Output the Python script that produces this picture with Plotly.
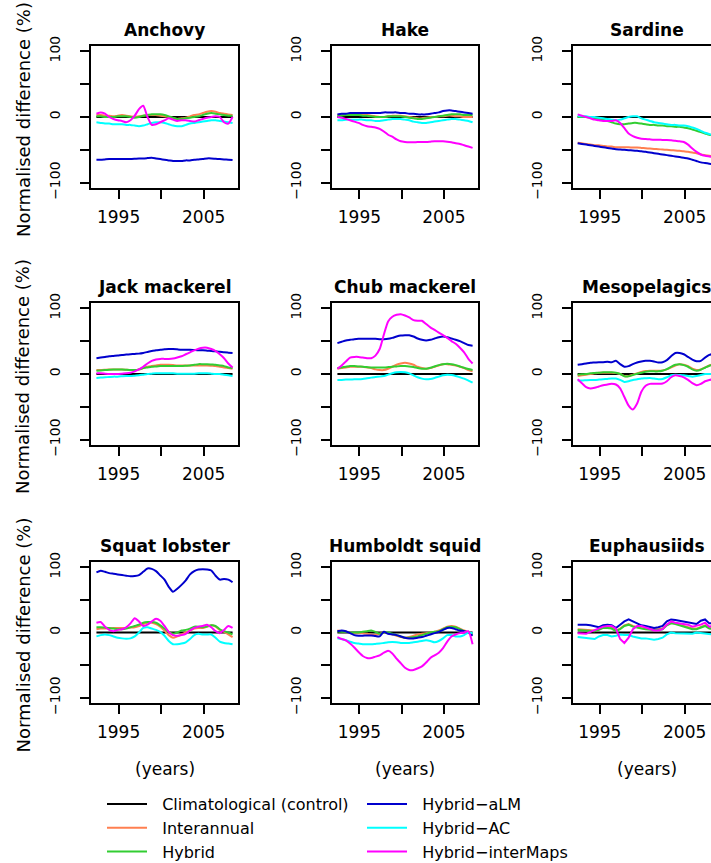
import plotly.graph_objects as go

# ---------------- data ----------------
YEARS = [1992.4, 1992.9, 1993.4, 1993.9, 1994.4, 1994.9, 1995.4, 1995.9, 1996.4, 1996.9,
         1997.4, 1997.9, 1998.4, 1998.9, 1999.4, 1999.9, 2000.4, 2000.9, 2001.4, 2001.9,
         2002.4, 2002.9, 2003.4, 2003.9, 2004.4, 2004.9, 2005.4, 2005.9, 2006.4, 2006.9,
         2007.4, 2007.9, 2008.4]

SPECIES = ["Anchovy", "Hake", "Sardine", "Jack mackerel", "Chub mackerel", "Mesopelagics",
           "Squat lobster", "Humboldt squid", "Euphausiids"]

SERIES_NAMES = ["Climatological (control)", "Interannual", "Hybrid",
                "Hybrid\u2212aLM", "Hybrid\u2212AC", "Hybrid\u2212interMaps"]
SERIES_COLORS = ["#000000", "#FF7F50", "#32CD32", "#0000CD", "#00FFFF", "#FF00FF"]

CONTROL = [0, 0, 0, 0, 0, 0, 0, 0, 0, 0, 0, 0, 0, 0, 0, 0, 0, 0, 0, 0, 0, 0, 0, 0, 0, 0, 0, 0, 0, 0, 0, 0, 0]

ANCHOVY_INTERANNUAL = [3, 3, 2, 2, 1, 2, 3, 2, 1, 0, 1, 2, 3, 3, 3, 2, 1, 0, -2, -3, -2, -1, 1, 3, 4, 6, 8, 9, 8, 6, 5, 4, 3]
ANCHOVY_HYBRID = [1, 1, 0, 0, 0, 1, 1, 1, 0, -1, 0, 2, 3, 4, 4, 4, 3, 1, -1, -3, -3, -2, -1, 0, 1, 3, 5, 6, 5, 4, 3, 2, 2]
ANCHOVY_ALM = [-65, -65, -64.5, -64, -64, -64, -64, -64, -64, -63.5, -63, -63, -62.5, -62, -63, -64, -65, -66, -67, -67, -67, -66, -66, -65, -64.5, -64, -63, -63, -63.5, -64, -64.5, -65, -65.5]
ANCHOVY_AC = [-8, -9, -10, -10, -11, -11, -11, -12, -12, -13, -14, -13, -11, -9, -8, -8, -9, -11, -13, -14, -14, -12, -10, -9, -8, -7, -6, -5, -5, -6, -7, -8, -9]
ANCHOVY_INTERMAPS = [5, 7, 5, 0, -3, -5, -6, -8, -5, 2, 12, 17, 0, -12, -11, -8, -5, -2, -4, -6, -5, -5, -6, -7, -5, -3, -1, 0, 1, 0, -8, -10, 0]

HAKE_INTERANNUAL = [3, 3, 4, 4, 4, 4, 4, 3, 2, 1, 0, 0, 1, 2, 2, 2, 1, 0, -1, -2, -2, -1, 0, 0, 1, 1, 2, 2, 1, 1, 0, 0, 0]
HAKE_HYBRID = [2, 2, 3, 3, 3, 3, 2, 2, 1, 0, 0, 0, 1, 1, 1, 1, 0, -1, -2, -3, -3, -2, -1, 0, 1, 2, 3, 4, 4, 4, 3, 3, 3]
HAKE_ALM = [4, 5, 5, 6, 6, 6, 6, 6, 6, 6, 6, 7, 7, 7, 7, 6, 6, 5, 5, 4, 4, 4, 5, 6, 7, 9, 10, 10, 9, 8, 7, 6, 5]
HAKE_AC = [-5, -5, -4, -4, -4, -4, -4, -5, -5, -6, -6, -5, -4, -3, -3, -3, -4, -5, -7, -8, -9, -9, -8, -7, -6, -5, -4, -3, -3, -4, -5, -6, -8]
HAKE_INTERMAPS = [0, -1, -3, -5, -7, -9, -12, -14, -15, -16, -18, -22, -27, -30, -34, -37, -38, -38.5, -38.5, -38, -38, -38, -37.5, -37, -37, -37, -37.5, -38.5, -40, -41, -43, -45, -47]

SARDINE_INTERANNUAL = [-39, -40, -41, -42, -43, -43, -44, -45, -45, -46, -46, -46, -46, -46.5, -46.5, -47, -47.5, -48, -48.5, -49, -49.5, -50, -50.5, -51, -51.5, -52, -53, -54, -55, -57, -58, -59, -60]
SARDINE_HYBRID = [0, 0, 0, -1, -2, -3, -4, -6, -8, -10, -11, -11, -10, -9, -9, -10, -11, -12, -12, -13, -13, -14, -14, -15, -15, -16, -17, -19, -21, -23, -25, -27, -28]
SARDINE_ALM = [-40, -41, -42, -43, -44, -45, -46, -47, -48, -49, -49.5, -50, -50.5, -51, -51.5, -52, -53, -54, -55, -56, -57, -58, -59, -60, -61, -62, -63, -65, -67, -69, -70, -71, -72]
SARDINE_AC = [2, 1, 1, 0, 0, -1, -2, -3, -4, -5, -4, -2, 0, 1, 1, -2, -4, -6, -8, -9, -10, -11, -12, -12, -13, -13, -14, -16, -18, -21, -24, -26, -28]
SARDINE_INTERMAPS = [4, 2, 0, -2, -4, -5, -6, -6, -6, -5, -9, -17, -25, -29, -31.5, -33, -33.5, -34, -34.5, -34.5, -35, -35, -35.5, -36, -37, -38, -42, -48, -53, -57, -59, -60, -61]

JACK_INTERANNUAL = [6, 6, 6.5, 7, 7, 7, 7, 6.5, 6, 6, 7, 9, 11, 12, 13, 14, 14, 14, 13.5, 13, 13, 13, 13, 13, 13, 13, 13, 12.5, 12, 11, 10, 9, 8]
JACK_HYBRID = [5, 5.5, 6, 6.5, 7, 7, 7, 6.5, 6, 6, 7, 9, 10, 11, 11.5, 12, 12, 12, 12, 12, 12, 12.5, 13, 14, 15, 15, 15, 14.5, 14, 13, 12, 10, 9]
JACK_ALM = [24, 25, 26, 27, 27.5, 28, 29, 29.5, 30, 30.5, 31, 32, 33.5, 35, 36, 37, 37.5, 38, 38, 37.5, 37, 37, 37, 36.5, 36, 36, 35.5, 35, 34.5, 34, 33, 32.5, 32]
JACK_AC = [-6, -5.5, -5, -4.5, -4, -4, -3.5, -3, -3, -2.5, -2, -1, 0, 0.5, 1, 1, 1, 1, 1, 0.5, 0.5, 0.5, 0.5, 0.5, 1, 1, 1, 0.5, 0, 0, -1, -2, -3]
JACK_INTERMAPS = [1, 1, 0.5, 0, 0, 0, 0.5, 1, 2, 4, 7, 11, 16, 20, 22, 23, 23, 23, 23.5, 25, 27, 30, 33, 36, 38.5, 40, 40, 38, 35, 30, 24, 16, 10]

CHUB_INTERANNUAL = [8, 9, 10, 11, 11, 11, 11, 10, 9, 7, 6, 6, 8, 11, 14, 16, 17, 16, 14, 11, 9, 8, 9, 11, 13, 15, 15, 14, 13, 11, 9, 6, 4]
CHUB_HYBRID = [9, 10, 11, 12, 12, 11.5, 11, 10.5, 10, 10, 10, 10, 10.5, 11, 11.5, 12, 12, 11.5, 10.5, 9, 8, 8, 9.5, 11.5, 13.5, 15, 15.5, 15, 13.5, 11.5, 9.5, 7.5, 6]
CHUB_ALM = [47, 49, 51, 52, 53, 53.5, 53.5, 53.5, 53.5, 53.5, 53, 53, 53.5, 55, 57, 58.5, 59, 59, 57, 54, 52, 51, 52, 54, 56, 57, 56, 54, 52, 50, 47, 44, 43]
CHUB_AC = [-9, -9, -8.5, -8.5, -8, -8, -7.5, -6.5, -5.5, -4.5, -4, -3, -1, 1, 2.5, 3, 2.5, 1, -2, -5, -7, -8, -7.5, -6, -4, -2, -1, -1.5, -3, -5, -7, -10, -13]
CHUB_INTERMAPS = [8, 13, 19, 25, 26, 26, 25, 24, 24, 28, 38, 60, 80, 87, 90, 91, 89, 86, 82, 81, 81, 76, 71, 67, 63, 59, 55, 50, 46, 40, 33, 23, 16]

MESO_INTERANNUAL = [-3, -2, -1, 0, 1, 2, 2, 2, 2, 1.5, 0, -3, -3, -1, 1, 3, 4.5, 5, 5, 5, 5.5, 7, 10, 13, 15, 14, 12, 8, 6, 7, 10, 13, 15]
MESO_HYBRID = [-1, -0.5, 0, 1, 1.5, 2, 2.5, 2.5, 2.5, 2, 0, -3.5, -3.5, -1.5, 0.5, 2, 3.5, 4, 4, 4, 5, 7.5, 11, 14, 15, 13.5, 11, 7, 5, 6.5, 9.5, 12.5, 14]
MESO_ALM = [14, 15, 16, 17, 17.5, 18, 18, 18.5, 18, 20, 15, 11, 12, 15, 17.5, 19, 20, 20, 19, 17.5, 18, 21, 27, 32, 32, 30, 26, 22, 19.5, 20, 25, 29, 31]
MESO_AC = [-10, -10, -9.5, -9, -9, -8.5, -8, -7.5, -7, -7, -9, -12, -11, -9, -8, -7, -6.5, -6, -7, -8, -7.5, -5, -2, -1, -1.5, -2, -3, -4, -3, -1.5, 0, 0, 0]
MESO_INTERMAPS = [-8, -14, -20, -22, -21, -19, -17, -16, -15, -16, -22, -35, -48, -54, -45, -27, -18, -15, -15, -15, -14.5, -11, -5, -2, -3, -5, -9, -14, -17, -15, -11, -9, -8]

SQUAT_INTERANNUAL = [5, 6, 6, 6.5, 7, 7, 7, 7, 7.5, 8, 10, 13, 15, 15, 13, 9, 3, -4, -8, -6, -3, 0, 3, 6, 7, 7, 9, 11, 9, 4, 1, -3, -7]
SQUAT_HYBRID = [8, 8, 7.5, 7, 6, 5, 5, 6, 8, 10, 12, 15, 16, 16, 15, 11, 6, 1, -2, 0, 3, 4, 6, 9, 9, 8, 9, 11, 10, 5, 2, 0, -3]
SQUAT_ALM = [92, 94.5, 93, 91, 90, 89, 88, 87, 86, 86.5, 88, 93, 98, 97.5, 94, 87.5, 81, 70, 62.5, 67, 73, 80, 89, 94, 96.5, 97, 96.5, 95, 87, 81, 82, 81, 77]
SQUAT_AC = [-6, -4, -3, -4, -6, -8, -9, -9.5, -9, -6, 0, 7, 8, 6, 4, 1, -5, -13, -18, -18, -17, -15, -10, -4, -2, -3, -3, -3, -8, -14, -16, -17, -18]
SQUAT_INTERMAPS = [15, 16, 9, 4, 2, 4, 5, 8, 14, 22, 17, 10, 12, 17, 21, 18, 10, 1, -4, -5, -4, -2, 3, 7, 9, 10, 12, 8, 2, -1, 4, 10, 7]

SQUID_INTERANNUAL = [3, 2, 1, 0, -1, -1, -1, -2, -3, -4, -2, 0, -1, -3, -5, -7, -8, -7, -5, -3, -2, -1, 0, 1, 3, 6, 9, 10, 9, 6, 3, 1, -2]
SQUID_HYBRID = [2, 1, 1, 0, 0, 0, 1, 2, 3, 1, -2, 0, 0, -2, -4, -6, -8, -8, -7, -6, -4, -2, 0, 1, 2, 5, 8, 9, 8, 5, 2, 0, -3]
SQUID_ALM = [2, 3, 2, -1, -4, -5, -5, -4.5, -4.5, -5.5, -6, 1, -2, -3, -4, -6, -8, -9, -9, -8, -7, -5, -3, -1, 1, 4, 7, 7, 5, 3, 2, 0, -5]
SQUID_AC = [-9, -10, -12, -14, -16, -17, -18, -18, -18, -17.5, -17, -16, -15, -14.5, -15, -16, -16, -16, -15, -14, -13, -12, -13, -15, -13, -9, -4, -4, -6, -6, -4, 0, -1]
SQUID_INTERMAPS = [-7, -10, -12, -17, -23, -30, -36, -39, -39, -37, -35, -31, -28, -32, -40, -47, -54, -57.5, -57.5, -55, -52, -46, -39, -35, -31, -24, -14, -6, -3, -1, 0, 2, -18]

EUPH_INTERANNUAL = [5, 4.5, 4, 4, 3, 5, 8, 8, 7, 3, 6, 11, 13, 10, 8, 7, 6, 5, 5, 5, 6, 12, 15, 14, 12, 10, 8, 6, 6, 9, 11, 7, 6]
EUPH_HYBRID = [4, 3.5, 3, 3, 2, 4, 7, 7, 6, 2, 5, 10, 12, 9, 7, 6, 5, 4, 4, 4, 5, 11, 14, 13, 11, 9, 7, 5, 5, 8, 10, 6, 5]
EUPH_ALM = [12, 12.5, 12, 11, 9, 8, 11, 12, 11, 7, 12, 17, 20, 17, 14, 11, 10, 9, 7, 8, 10, 17, 20, 19, 18, 17, 16, 14, 13, 18, 20, 14, 14]
EUPH_AC = [-7, -7.5, -8, -9, -10, -6, -4, -4, -6, -5, -3, -4, -4, -6, -8, -9, -9, -10, -11, -10, -8, -3, 0, -1, -1, -1, -2, -2, 0, -1, -1, -3, -3]
EUPH_INTERMAPS = [-1, -2, -2, 1, 4, 7, 9, 10, 10, 6, -10, -16, -8, 5, 10, 10, 8, 6, 3, 3, 5, 12, 17, 15, 14, 13, 12, 9, 10, 12, 15, 9, 10]

PANEL_DATA = [
    [ANCHOVY_INTERANNUAL, ANCHOVY_HYBRID, ANCHOVY_ALM, ANCHOVY_AC, ANCHOVY_INTERMAPS],
    [HAKE_INTERANNUAL, HAKE_HYBRID, HAKE_ALM, HAKE_AC, HAKE_INTERMAPS],
    [SARDINE_INTERANNUAL, SARDINE_HYBRID, SARDINE_ALM, SARDINE_AC, SARDINE_INTERMAPS],
    [JACK_INTERANNUAL, JACK_HYBRID, JACK_ALM, JACK_AC, JACK_INTERMAPS],
    [CHUB_INTERANNUAL, CHUB_HYBRID, CHUB_ALM, CHUB_AC, CHUB_INTERMAPS],
    [MESO_INTERANNUAL, MESO_HYBRID, MESO_ALM, MESO_AC, MESO_INTERMAPS],
    [SQUAT_INTERANNUAL, SQUAT_HYBRID, SQUAT_ALM, SQUAT_AC, SQUAT_INTERMAPS],
    [SQUID_INTERANNUAL, SQUID_HYBRID, SQUID_ALM, SQUID_AC, SQUID_INTERMAPS],
    [EUPH_INTERANNUAL, EUPH_HYBRID, EUPH_ALM, EUPH_AC, EUPH_INTERMAPS],
]

X_TICKS = [1995, 2000, 2005]
X_TICKTEXT = ["1995", "", "2005"]
Y_TICKS = [-100, -50, 0, 50, 100]
Y_TICKTEXT = ["\u2212100", "", "0", "", "100"]

# ---------------- layout geometry (pixels) ----------------
W, H = 711, 863
COLS_PX = [(91, 238), (332, 478), (573, 711)]
BOX_W = 147
ROWS_PX = [(46, 188), (303, 445), (562, 703)]
X_RANGES = [[1991.76, 2009.04], [1991.76, 2009.04], [1991.85, 2008.1]]
Y_RANGE = [-108, 108]
FONT = "DejaVu Sans"
LEGEND_OF_SERIES = ["legend", "legend", "legend", "legend2", "legend2", "legend2"]
PAD = "\u00a0\u00a0"

fig = go.Figure()
layout = dict(width=W, height=H, margin=dict(l=0, r=0, t=0, b=0, autoexpand=False),
              paper_bgcolor="white", plot_bgcolor="white", showlegend=True,
              font=dict(family=FONT, color="black"))
annotations = []

for i, name in enumerate(SPECIES):
    r, c = divmod(i, 3)
    idx = "" if i == 0 else str(i + 1)
    xa, ya = "x" + idx, "y" + idx
    series = [CONTROL] + PANEL_DATA[i]
    shape = "linear" if name == "Euphausiids" else "spline"
    for s, vals in enumerate(series):
        fig.add_trace(go.Scatter(
            x=YEARS, y=vals, mode="lines", name=PAD + SERIES_NAMES[s],
            line=dict(color=SERIES_COLORS[s], width=2, shape=shape, smoothing=0.6),
            xaxis=xa, yaxis=ya, showlegend=(i == 0), legend=LEGEND_OF_SERIES[s],
            hoverinfo="skip"))
    x0, x1 = COLS_PX[c]
    y0, y1 = ROWS_PX[r]
    cx = (x0 + BOX_W / 2) / W
    layout["xaxis" + idx] = dict(
        domain=[x0 / W, x1 / W], range=X_RANGES[c], anchor=ya,
        showline=True, linecolor="black", linewidth=1.5, mirror=True,
        ticks="outside", ticklen=9, tickwidth=1.5, tickcolor="black",
        tickvals=X_TICKS, ticktext=X_TICKTEXT, showgrid=False, zeroline=False,
        tickfont=dict(family=FONT, size=17, color="black"), ticklabelstandoff=4)
    layout["yaxis" + idx] = dict(
        domain=[1 - y1 / H, 1 - y0 / H], range=Y_RANGE, anchor=xa,
        showline=True, linecolor="black", linewidth=1.5, mirror=(c != 2),
        ticks="outside", ticklen=9, tickwidth=1.5, tickcolor="black",
        tickvals=Y_TICKS, ticktext=Y_TICKTEXT, showgrid=False, zeroline=False,
        tickangle=-90, tickfont=dict(family=FONT, size=14, color="black"),
        ticklabelstandoff=15)
    annotations.append(dict(
        text="<b>" + name + "</b>", xref="paper", yref="paper",
        x=cx, y=1 - (y0 - 16) / H,
        xanchor="center", yanchor="middle", showarrow=False,
        font=dict(family=FONT, size=17, color="black")))
    if c == 0:
        annotations.append(dict(
            text="Normalised difference (%)", xref="paper", yref="paper",
            x=23 / W, y=1 - ((y0 + y1) / 2 + 3) / H, textangle=-90,
            xanchor="center", yanchor="middle", showarrow=False,
            font=dict(family=FONT, size=18, color="black")))
    if r == 2:
        annotations.append(dict(
            text="(years)", xref="paper", yref="paper",
            x=cx, y=1 - 769 / H,
            xanchor="center", yanchor="middle", showarrow=False,
            font=dict(family=FONT, size=17, color="black")))

layout["annotations"] = annotations
legend_common = dict(orientation="v", xanchor="left", yanchor="top",
                     y=1 - 787 / H, font=dict(family=FONT, size=16, color="black"),
                     bgcolor="rgba(0,0,0,0)", traceorder="normal", itemwidth=40,
                     tracegroupgap=0)
layout["legend"] = dict(x=102 / W, **legend_common)
layout["legend2"] = dict(x=362 / W, **legend_common)
fig.update_layout(**layout)
fig.write_html("out.html")
